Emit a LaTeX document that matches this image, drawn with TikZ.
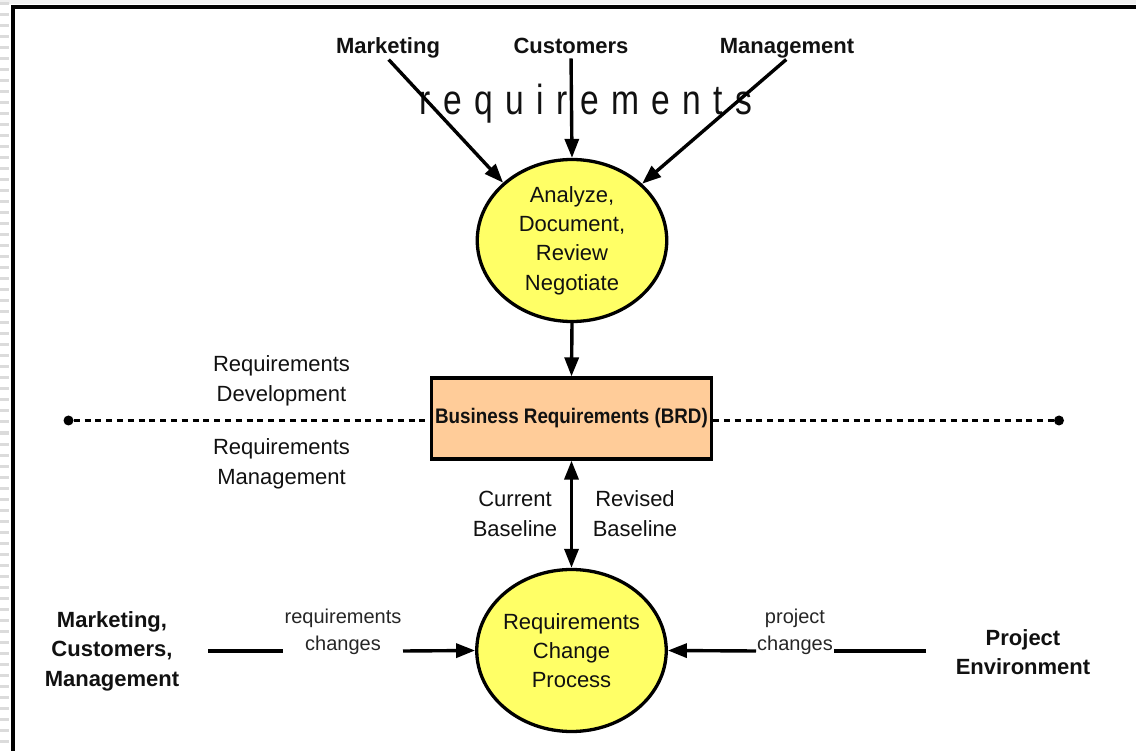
\documentclass[tikz,border=0pt]{standalone}
\usepackage{fontspec}
\setmainfont{Liberation Sans}
\usetikzlibrary{shapes.geometric,arrows.meta}
\definecolor{ellfill}{HTML}{FFFF66}
\definecolor{boxfill}{HTML}{FFCC99}
\definecolor{txt}{HTML}{111111}
\begin{document}
\begin{tikzpicture}[x=1pt,y=-1pt,
  conn/.style={line width=3.4pt},
  arr/.style={conn,-{Triangle[length=19pt,width=14pt]}},
  darr/.style={conn,{Triangle[length=19pt,width=14pt]}-{Triangle[length=19pt,width=14pt]}},
  proc/.style={ellipse,draw,line width=3.3pt,fill=ellfill,minimum width=189.5pt,minimum height=162pt,inner xsep=-12pt,inner ysep=0pt,align=center,text=txt,font=\fontsize{22}{29.3}\selectfont},
  brdbox/.style={draw,line width=3.2pt,fill=boxfill,minimum width=280pt,minimum height=81pt,inner sep=0pt,text=txt,font=\bfseries\fontsize{18.8}{22}\selectfont},
  src/.style={font=\bfseries\fontsize{22}{29.5}\selectfont,align=center,inner sep=0pt,text=txt},
  lbl/.style={font=\fontsize{22}{30}\selectfont,align=center,inner sep=0pt,text=txt},
  small/.style={font=\fontsize{20}{27.5}\selectfont,align=center,inner sep=0pt,text=black!85},
  dot/.style={circle,fill=black,inner sep=0pt,minimum size=10pt},
  sep/.style={line width=3pt,dash pattern=on 6pt off 4.8pt}
]
\useasboundingbox (0,0) rectangle (1136,751);
% window edge artefacts
\fill[black!6] (0,0) rectangle (1136,4);
\foreach \yy in {4,15,...,751} \draw[black!14,line width=3pt] (0,\yy) -- (9,\yy);
\draw[line width=3.5pt] (13,751) -- (13,7) -- (1136,7);

% top sources
\node[src,anchor=base] (mkt) at (388,54) {Marketing};
\node[src,anchor=base] (cus) at (571,54) {Customers};
\node[src,anchor=base] (mgt) at (787,54) {Management};

% processes and document
\node[proc] (ana) at (572,240.5) {Analyze,\\Document,\\Review\\Negotiate};
\node[brdbox] (brd) at (571.5,418.5) {\scalebox{1}[1.12]{Business Requirements (BRD)}};
\node[proc] (rcp) at (571.5,650.5) {Requirements\\Change\\Process};

% big word
\node[anchor=base,inner sep=0pt,text=txt,font=\fontsize{42}{42}\selectfont\addfontfeature{LetterSpace=37}] (reqword) at (586,115) {\scalebox{0.8}[1]{requirements}};

% side labels
\node[lbl] (rdev) at (281.5,381) {Requirements\\Development};
\node[lbl] (rmgt) at (281.5,464) {Requirements\\Management};
\node[lbl] (cur) at (515,514) {Current\\Baseline};
\node[lbl] (rev) at (635,514) {Revised\\Baseline};
\node[src] (mcm) at (112,651) {Marketing,\\Customers,\\Management};
\node[src] (penv) at (1023,652) {Project\\Environment};
\node[small] (rchg) at (343,632) {requirements\\changes};
\node[small] (pchg) at (795,632) {project\\changes};

% separator
\node[dot] (dl) at (68.5,420.5) {};
\node[dot] (dr) at (1059,420.5) {};
\draw[sep] (dl) -- (dl -| brd.west);
\draw[sep] (brd.east |- dr) -- (dr);

% connectors
\draw[arr,shorten <=1pt] (mkt.south) -- (ana.140);
\draw[arr,shorten <=4pt] (cus.south) -- (ana.north);
\draw[arr,shorten <=1pt] (mgt.south) -- (ana.39);
\draw[arr] (ana.south) -- (brd.north);
\draw[darr] (brd.south) -- (rcp.north);

\coordinate (lA) at (208,651);
\coordinate (lB) at (283,651);
\coordinate (lC) at (403,651);
\coordinate (rA) at (926,651);
\coordinate (rB) at (834,651);
\coordinate (rC) at (756,651);
\draw[conn] (lA) -- (lB);
\draw[arr] (lC) -- (rcp.west);
\draw[conn] (rA) -- (rB);
\draw[arr] (rC) -- (rcp.east);
\end{tikzpicture}
\end{document}
